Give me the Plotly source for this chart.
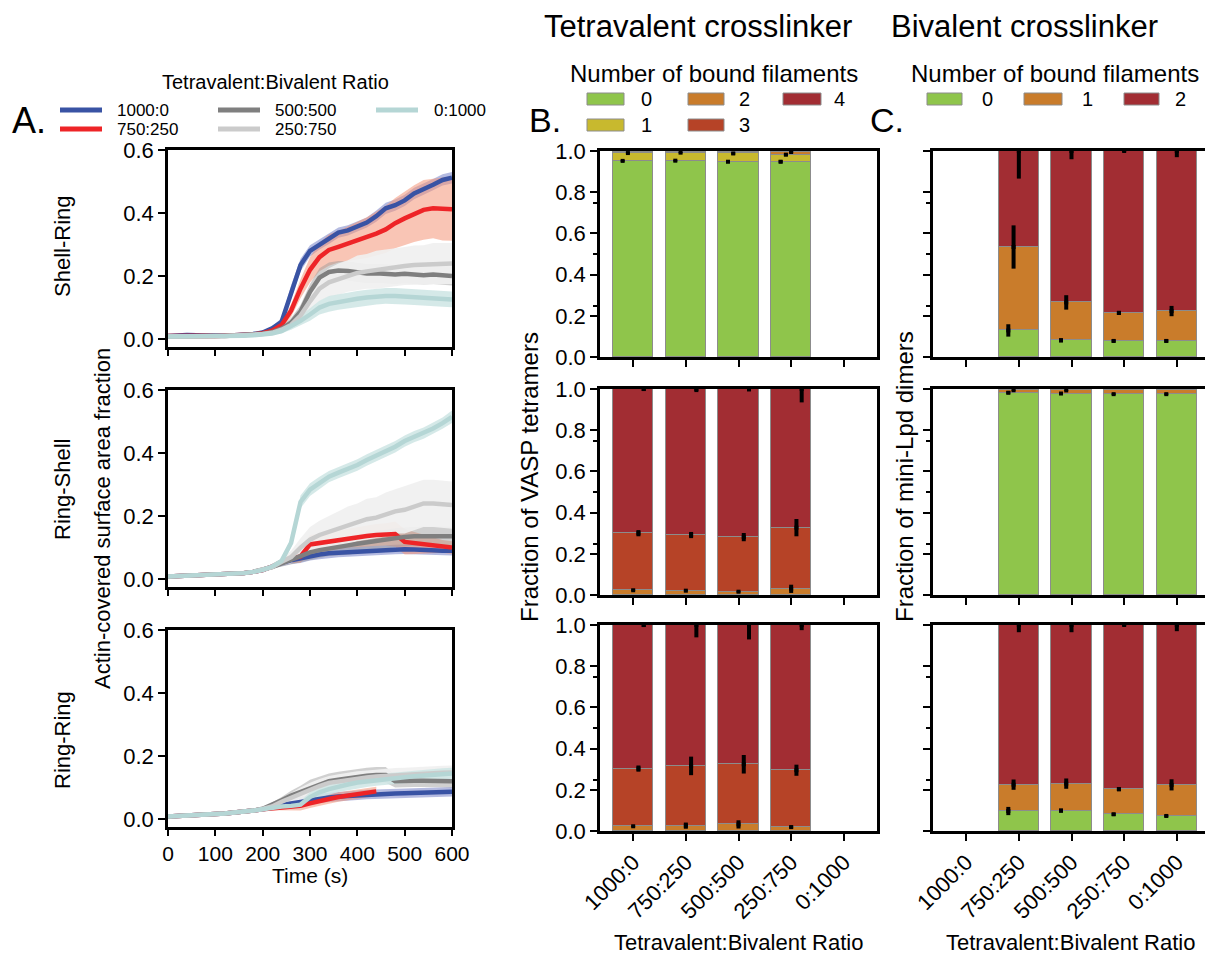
import numpy as np
import plotly.graph_objects as go

# page is rendered with an 8px body margin: figure origin sits at (8, 8) of the window
OFF = 8
W, H = 1213 - OFF, 957 - OFF

# ---------------- DATA ----------------
time_s = [0, 20, 40, 60, 80, 100, 120, 140, 160, 180, 200, 220, 240, 260, 280, 300,
          320, 340, 360, 380, 400, 420, 440, 460, 480, 500, 520, 540, 560, 580, 600]
ratios = ["1000:0", "750:250", "500:500", "250:750", "0:1000"]
row_names = ["Shell-Ring", "Ring-Shell", "Ring-Ring"]

# Shell-Ring mean curves
sr_1000_0 = [.010, .012, .013, .012, .011, .011, .012, .012, .013, .016, .021, .034, .055, .150, .235, .280,
             .300, .318, .338, .345, .358, .370, .390, .415, .425, .440, .462, .475, .490, .505, .512]
sr_750_250 = [.010, .011, .012, .012, .011, .010, .011, .012, .013, .015, .019, .027, .045, .090, .160, .220,
              .260, .283, .293, .303, .313, .322, .335, .348, .368, .383, .398, .410, .415, .413, .412]
sr_500_500 = [.008, .009, .010, .010, .010, .010, .010, .011, .012, .014, .017, .022, .033, .052, .088, .150,
              .195, .213, .218, .216, .211, .208, .209, .206, .205, .207, .205, .203, .205, .203, .200]
sr_250_750 = [.008, .009, .010, .010, .010, .010, .010, .011, .012, .013, .016, .020, .030, .045, .075, .120,
              .160, .180, .190, .200, .210, .215, .220, .225, .228, .232, .235, .236, .240, .240, .240]
sr_0_1000 = [.008, .008, .009, .009, .009, .009, .009, .010, .011, .012, .014, .018, .025, .040, .058, .078,
             .100, .112, .118, .122, .128, .132, .135, .137, .137, .135, .133, .132, .130, .128, .126]
# Shell-Ring band half-widths
sr_1000_0_sd = [.004, .004, .004, .004, .004, .004, .004, .004, .004, .004, .004, .006, .012, .020, .020, .018,
                .016, .016, .016, .016, .016, .016, .018, .018, .018, .018, .018, .018, .018, .018, .018]
sr_750_250_sd = [.004, .004, .004, .004, .004, .004, .004, .004, .004, .004, .004, .006, .010, .020, .030, .040,
                 .045, .050, .050, .055, .060, .065, .070, .075, .080, .085, .090, .095, .095, .100, .100]
sr_500_500_sd = [.003, .003, .003, .003, .003, .003, .003, .003, .003, .003, .003, .004, .008, .015, .020, .025,
                 .030, .030, .030, .030, .030, .030, .030, .030, .030, .030, .030, .030, .030, .030, .030]
sr_250_750_sd = [.003, .003, .003, .003, .003, .003, .003, .003, .003, .003, .003, .004, .008, .012, .020, .030,
                 .040, .045, .050, .050, .055, .055, .060, .060, .060, .060, .062, .062, .065, .065, .065]
sr_0_1000_sd = [.003, .003, .003, .003, .003, .003, .003, .003, .003, .003, .003, .004, .006, .010, .015, .020,
                .022, .025, .025, .025, .025, .025, .025, .025, .025, .025, .025, .025, .025, .025, .025]

# Ring-Shell mean curves
rs_1000_0 = [.008, .009, .010, .011, .012, .013, .014, .016, .019, .023, .029, .040, .052, .060, .066, .074,
             .078, .082, .084, .086, .088, .090, .092, .093, .094, .095, .094, .092, .091, .090, .090]
rs_750_250 = [.008, .009, .010, .011, .012, .013, .014, .016, .019, .023, .029, .040, .055, .065, .072, .110,
              .115, .120, .125, .130, .133, .137, .140, .142, .143, .118, .115, .112, .108, .104, .100]
rs_500_500 = [.008, .009, .010, .011, .012, .013, .014, .016, .019, .023, .029, .038, .050, .062, .075, .085,
              .092, .098, .103, .107, .112, .117, .122, .127, .131, .134, .136, .137, .137, .136, .136]
rs_250_750 = [.008, .009, .010, .011, .012, .013, .014, .016, .019, .023, .029, .038, .055, .070, .100, .125,
              .140, .150, .160, .170, .180, .190, .195, .205, .215, .220, .230, .240, .240, .238, .235]
rs_0_1000 = [.008, .009, .010, .011, .012, .013, .014, .016, .019, .023, .029, .040, .058, .115, .245, .284,
             .305, .325, .338, .350, .362, .378, .392, .405, .420, .438, .452, .463, .478, .495, .515]
rs_1000_0_sd = [.004, .004, .004, .004, .004, .004, .004, .004, .004, .004, .004, .006, .010, .012, .015, .015,
                .015, .015, .015, .015, .015, .015, .015, .015, .015, .015, .015, .015, .015, .015, .015]
rs_750_250_sd = [.004, .004, .004, .004, .004, .004, .004, .004, .004, .004, .004, .006, .010, .015, .020, .030,
                 .030, .030, .030, .030, .032, .035, .035, .035, .040, .040, .035, .030, .025, .020, .020]
rs_500_500_sd = [.004, .004, .004, .004, .004, .004, .004, .004, .004, .004, .004, .005, .010, .015, .020, .025,
                 .025, .025, .028, .030, .030, .030, .030, .030, .030, .030, .030, .030, .030, .030, .030]
rs_250_750_sd = [.004, .004, .004, .004, .004, .004, .004, .004, .004, .004, .004, .005, .010, .020, .030, .040,
                 .045, .050, .055, .060, .060, .065, .065, .070, .070, .075, .075, .075, .075, .075, .075]
rs_0_1000_sd = [.004, .004, .004, .004, .004, .004, .004, .004, .004, .004, .004, .005, .008, .015, .020, .020,
                .020, .018, .018, .018, .018, .018, .018, .018, .018, .018, .018, .018, .018, .018, .020]

# Ring-Ring mean curves
rr_1000_0 = [.008, .009, .011, .012, .014, .016, .018, .020, .023, .027, .031, .036, .045, .050, .055, .062,
             .066, .069, .072, .074, .076, .078, .079, .080, .081, .082, .083, .084, .085, .086, .087]
rr_750_250 = [.008, .009, .011, .012, .014, .016, .018, .020, .023, .027, .031, .034, .038, .040, .042, .050,
              .058, .064, .070, .075, .080, .085, .088, None, None, None, None, None, None, None, None]
rr_500_500 = [.008, .009, .011, .012, .014, .016, .018, .020, .023, .027, .033, .045, .060, .075, .086, .100,
              .110, .120, .125, .130, .135, .138, .140, .140, .120, .122, .122, .122, .121, .120, .120]
rr_250_750 = [.008, .009, .011, .012, .014, .016, .018, .020, .023, .027, .032, .040, .055, .068, .080, .095,
              .105, .115, .120, .125, .130, .132, .135, .137, .140, .141, .143, .144, .145, .147, .148]
rr_0_1000 = [.008, .009, .011, .012, .014, .016, .018, .020, .023, .027, .031, .036, .040, .042, .046, .070,
             .085, .095, .104, .110, .116, .120, .124, .127, .130, .133, .136, .139, .141, .143, .145]
rr_1000_0_sd = [.004, .004, .004, .004, .004, .004, .004, .004, .004, .004, .004, .006, .012, .015, .015, .015,
                .015, .015, .015, .015, .015, .015, .015, .015, .015, .015, .015, .015, .015, .015, .015]
rr_750_250_sd = [.004, .004, .004, .004, .004, .004, .004, .004, .004, .004, .004, .006, .010, .012, .015, .015,
                 .015, .015, .015, .015, .015, .015, .015, None, None, None, None, None, None, None, None]
rr_500_500_sd = [.004, .004, .004, .004, .004, .004, .004, .004, .004, .004, .004, .008, .010, .015, .020, .025,
                 .025, .025, .025, .025, .025, .025, .025, .025, .020, .020, .020, .020, .020, .020, .020]
rr_250_750_sd = [.004, .004, .004, .004, .004, .004, .004, .004, .004, .004, .004, .006, .010, .015, .020, .020,
                 .022, .022, .022, .022, .022, .022, .022, .022, .022, .022, .022, .022, .022, .022, .022]
rr_0_1000_sd = [.004, .004, .004, .004, .004, .004, .004, .004, .004, .004, .004, .006, .008, .010, .012, .015,
                .018, .018, .018, .018, .018, .018, .018, .018, .018, .018, .018, .018, .018, .018, .018]

# Tetravalent crosslinker: fraction by number of bound filaments (0..4), per ratio
tet_layers = ["0", "1", "2", "3", "4"]
tet_shell_ring = [[0.952, 0.953, 0.948, 0.948, None],
                  [0.038, 0.039, 0.040, 0.034, None],
                  [0.007, 0.005, 0.009, 0.013, None],
                  [0.002, 0.002, 0.002, 0.004, None],
                  [0.001, 0.001, 0.001, 0.001, None]]
tet_shell_ring_err = [[0.004, 0.004, 0.007, 0.008, None],
                      [0.004, 0.003, 0.006, 0.006, None],
                      [None, None, None, 0.004, None],
                      [None, None, None, None, None],
                      [None, None, None, None, None]]
tet_ring_shell = [[0.0, 0.0, 0.0, 0.0, None],
                  [0.002, 0.002, 0.002, 0.002, None],
                  [0.021, 0.019, 0.014, 0.028, None],
                  [0.277, 0.270, 0.265, 0.297, None],
                  [0.700, 0.709, 0.719, 0.673, None]]
tet_ring_shell_err = [[None, None, None, None, None],
                      [None, None, None, None, None],
                      [0.004, 0.003, 0.004, 0.020, None],
                      [0.015, 0.015, 0.020, 0.042, None],
                      [0.010, 0.015, 0.012, 0.065, None]]
tet_ring_ring = [[0.0, 0.0, 0.0, 0.0, None],
                 [0.002, 0.002, 0.002, 0.002, None],
                 [0.021, 0.024, 0.030, 0.017, None],
                 [0.280, 0.290, 0.292, 0.276, None],
                 [0.697, 0.684, 0.676, 0.705, None]]
tet_ring_ring_err = [[None, None, None, None, None],
                     [None, None, None, None, None],
                     [0.003, 0.015, 0.020, 0.007, None],
                     [0.015, 0.045, 0.045, 0.027, None],
                     [0.010, 0.060, 0.070, 0.025, None]]

# Bivalent crosslinker: fraction by number of bound filaments (0..2), per ratio
biv_layers = ["0", "1", "2"]
biv_shell_ring = [[None, 0.129, 0.081, 0.078, 0.078],
                  [None, 0.405, 0.184, 0.136, 0.145],
                  [None, 0.466, 0.735, 0.786, 0.777]]
biv_shell_ring_err = [[None, 0.030, 0.010, 0.008, 0.008],
                      [None, 0.105, 0.035, 0.010, 0.025],
                      [None, 0.134, 0.040, 0.005, 0.030]]
biv_ring_shell = [[None, 0.982, 0.978, 0.975, 0.975],
                  [None, 0.012, 0.015, 0.018, 0.018],
                  [None, 0.006, 0.007, 0.007, 0.007]]
biv_ring_shell_err = [[None, 0.008, 0.005, 0.004, 0.004],
                      [None, 0.003, 0.003, None, None],
                      [None, None, None, None, None]]
biv_ring_ring = [[None, 0.097, 0.099, 0.081, 0.073],
                 [None, 0.128, 0.131, 0.122, 0.151],
                 [None, 0.775, 0.770, 0.797, 0.776]]
biv_ring_ring_err = [[None, 0.020, 0.010, 0.008, 0.006],
                     [None, 0.025, 0.025, 0.010, 0.027],
                     [None, 0.035, 0.035, 0.005, 0.030]]

# ---------------- STYLE ----------------
line_colors = ["#3953a4", "#ee2427", "#7f7f7f", "#cbcbcb", "#b5d6d5"]
band_colors = ["rgba(120,132,200,0.55)", "rgba(244,150,120,0.55)", "rgba(150,150,150,0.45)",
               "rgba(240,240,240,0.92)", "rgba(206,229,228,0.85)"]
tet_colors = ["#8fc54b", "#c8b92e", "#c97c2b", "#b64327", "#a22d33"]
biv_colors = ["#8fc54b", "#c97c2b", "#a22d33"]

FONT = "Liberation Sans, Arial, sans-serif"


def fx(px):
    # window pixel -> paper fraction
    return (px - OFF) / W


def fy(py):
    return 1 - (py - OFF) / H


fig = go.Figure()

# domains in window pixels
A_x = (168, 452)
B_x = (600, 877)
C_x = (933, 1210)
A_y = [(150, 347), (390, 587), (630, 827)]
BC_y = [(151, 357), (389, 595), (625, 831)]

axis_common = dict(showline=True, mirror=True, linecolor="black", linewidth=2.5,
                   ticks="outside", ticklen=7, tickwidth=2, tickcolor="black",
                   showgrid=False, zeroline=False, automargin=False,
                   tickfont=dict(family=FONT, size=22, color="black"))

layout_axes = {}
for r in range(3):
    ia = r + 1
    layout_axes[f"xaxis{ia}"] = dict(axis_common, domain=[fx(A_x[0]), fx(A_x[1])], range=[0, 600],
                                     tickvals=[0, 100, 200, 300, 400, 500, 600], ticklen=6,
                                     tickfont=dict(family=FONT, size=21, color="black"),
                                     showticklabels=(r == 2), anchor=f"y{ia}")
    layout_axes[f"yaxis{ia}"] = dict(axis_common, domain=[fy(A_y[r][1]), fy(A_y[r][0])], range=[-0.025, 0.6],
                                     tickvals=[0, 0.2, 0.4, 0.6], tickformat=".1f", anchor=f"x{ia}")
    ib = r + 4
    layout_axes[f"xaxis{ib}"] = dict(axis_common, domain=[fx(B_x[0]), fx(B_x[1])], range=[-0.63, 4.63],
                                     tickvals=[0, 1, 2, 3, 4], ticktext=ratios, tickangle=-45,
                                     showticklabels=(r == 2), anchor=f"y{ib}")
    layout_axes[f"yaxis{ib}"] = dict(axis_common, domain=[fy(BC_y[r][1]), fy(BC_y[r][0])], range=[0, 1],
                                     tickvals=[0, 0.2, 0.4, 0.6, 0.8, 1.0], tickformat=".1f",
                                     minor=dict(tickvals=[0.25, 0.5, 0.75], ticks="outside", ticklen=4,
                                                tickwidth=2, tickcolor="black"),
                                     anchor=f"x{ib}")
    ic = r + 7
    layout_axes[f"xaxis{ic}"] = dict(axis_common, domain=[fx(C_x[0]), fx(C_x[1])], range=[-0.63, 4.63],
                                     tickvals=[0, 1, 2, 3, 4], ticktext=ratios, tickangle=-45,
                                     showticklabels=(r == 2), anchor=f"y{ic}")
    layout_axes[f"yaxis{ic}"] = dict(axis_common, domain=[fy(BC_y[r][1]), fy(BC_y[r][0])], range=[0, 1],
                                     tickvals=[0, 0.2, 0.4, 0.6, 0.8, 1.0], showticklabels=False,
                                     minor=dict(tickvals=[0.25, 0.5, 0.75], ticks="outside", ticklen=4,
                                                tickwidth=2, tickcolor="black"),
                                     anchor=f"x{ic}")

# ---------------- PANEL A traces ----------------
panel_a = [
    ([sr_1000_0, sr_750_250, sr_500_500, sr_250_750, sr_0_1000],
     [sr_1000_0_sd, sr_750_250_sd, sr_500_500_sd, sr_250_750_sd, sr_0_1000_sd]),
    ([rs_1000_0, rs_750_250, rs_500_500, rs_250_750, rs_0_1000],
     [rs_1000_0_sd, rs_750_250_sd, rs_500_500_sd, rs_250_750_sd, rs_0_1000_sd]),
    ([rr_1000_0, rr_750_250, rr_500_500, rr_250_750, rr_0_1000],
     [rr_1000_0_sd, rr_750_250_sd, rr_500_500_sd, rr_250_750_sd, rr_0_1000_sd]),
]


def clean(means_i, sds_i):
    keep = [k for k, v in enumerate(means_i) if v is not None]
    t = np.array([time_s[k] for k in keep], dtype=float)
    m = np.array([means_i[k] for k in keep], dtype=float)
    s = np.array([sds_i[k] for k in keep], dtype=float)
    return t, m, s


for r, (means, sds) in enumerate(panel_a):
    xa, ya = f"x{r + 1}", f"y{r + 1}"
    for i in range(5):
        t, m, s = clean(means[i], sds[i])
        fig.add_trace(go.Scatter(x=t, y=m + s, mode="lines", line=dict(width=0, color=band_colors[i]),
                                 xaxis=xa, yaxis=ya, showlegend=False, hoverinfo="skip"))
        fig.add_trace(go.Scatter(x=t, y=m - s, mode="lines", line=dict(width=0, color=band_colors[i]),
                                 fill="tonexty", fillcolor=band_colors[i],
                                 xaxis=xa, yaxis=ya, showlegend=False, hoverinfo="skip"))
    for i in range(5):
        t, m, s = clean(means[i], sds[i])
        fig.add_trace(go.Scatter(x=t, y=m, mode="lines", line=dict(width=4.5, color=line_colors[i]),
                                 name=ratios[i], xaxis=xa, yaxis=ya, showlegend=False))


# ---------------- PANEL B / C bars ----------------
def add_stack(vals, errs, colors, names, xa, ya):
    cum = np.zeros(5)
    xs = np.arange(5)
    for k in range(len(vals)):
        v = np.array([np.nan if a is None else a for a in vals[k]], dtype=float)
        fig.add_trace(go.Bar(x=xs, y=vals[k], width=0.76,
                             marker=dict(color=colors[k], line=dict(color="#8c8c8c", width=1)),
                             name=names[k], xaxis=xa, yaxis=ya, showlegend=False))
        cum = cum + np.nan_to_num(v)
        e = np.array([np.nan if a is None else a for a in errs[k]], dtype=float)
        ok = ~np.isnan(e) & ~np.isnan(v)
        if ok.any():
            top = cum[ok]
            em = e[ok]
            ep = np.minimum(em, np.maximum(1 - top, 0))
            offset = (k - 2) * 0.1
            fig.add_trace(go.Scatter(x=xs[ok] + offset, y=top, mode="markers",
                                     marker=dict(symbol="square", size=4, color="black"),
                                     error_y=dict(type="data", symmetric=False, array=ep, arrayminus=em,
                                                  thickness=4, width=0, color="black"),
                                     xaxis=xa, yaxis=ya, showlegend=False, hoverinfo="skip"))


tet_rows = [(tet_shell_ring, tet_shell_ring_err), (tet_ring_shell, tet_ring_shell_err),
            (tet_ring_ring, tet_ring_ring_err)]
biv_rows = [(biv_shell_ring, biv_shell_ring_err), (biv_ring_shell, biv_ring_shell_err),
            (biv_ring_ring, biv_ring_ring_err)]
for r in range(3):
    add_stack(tet_rows[r][0], tet_rows[r][1], tet_colors, tet_layers, f"x{r + 4}", f"y{r + 4}")
    add_stack(biv_rows[r][0], biv_rows[r][1], biv_colors, biv_layers, f"x{r + 7}", f"y{r + 7}")

# ---------------- texts & manual legends ----------------
ann = []
shapes = []


def text(x, y, s, size, xanchor="center", yanchor="middle", angle=0):
    ann.append(dict(x=fx(x), y=fy(y), xref="paper", yref="paper", text=s, showarrow=False,
                    xanchor=xanchor, yanchor=yanchor, textangle=angle,
                    font=dict(family=FONT, size=size, color="black")))


text(698, 27, "Tetravalent crosslinker", 31)
text(1024, 27, "Bivalent crosslinker", 31)
text(714, 73, "Number of bound filaments", 24)
text(1055, 73, "Number of bound filaments", 24)
text(10, 121, "A.", 36, xanchor="left")
text(527, 120, "B.", 34, xanchor="left")
text(868, 120, "C.", 34, xanchor="left")
text(275, 82, "Tetravalent:Bivalent Ratio", 20)
for r, nm in enumerate(row_names):
    text(62, [246, 489, 740][r], nm, 22, angle=-90)
text(102, 519, "Actin-covered surface area fraction", 22, angle=-90)
text(530, 477, "Fraction of VASP tetramers", 24, angle=-90)
text(905, 477, "Fraction of mini-Lpd dimers", 24, angle=-90)
text(310, 875, "Time (s)", 21)
text(738, 942, "Tetravalent:Bivalent Ratio", 22)
text(1070, 942, "Tetravalent:Bivalent Ratio", 22)

# legend A (line swatches)
legA = [(60, 102, 110, 115), (60, 102, 129, 115), (218, 260, 110, 273), (218, 260, 129, 273), (376, 418, 110, 432)]
for i, (x0, x1, y, tx) in enumerate(legA):
    shapes.append(dict(type="line", xref="paper", yref="paper", x0=fx(x0), x1=fx(x1), y0=fy(y), y1=fy(y),
                       line=dict(color=line_colors[i], width=5)))
    text(tx, y, ratios[i], 17, xanchor="left")

# legend B / C (rect swatches)
legB = [(587, 624, 99, 639), (587, 624, 125, 639), (688, 724, 99, 737), (688, 724, 125, 737), (783, 821, 99, 832)]
for k, (x0, x1, y, tx) in enumerate(legB):
    shapes.append(dict(type="rect", xref="paper", yref="paper", x0=fx(x0), x1=fx(x1), y0=fy(y + 6), y1=fy(y - 6),
                       fillcolor=tet_colors[k], line=dict(color="#8c8c8c", width=1)))
    text(tx, y, tet_layers[k], 20, xanchor="left")
legC = [(927, 962, 99, 980), (1024, 1062, 99, 1080), (1124, 1159, 99, 1173)]
for k, (x0, x1, y, tx) in enumerate(legC):
    shapes.append(dict(type="rect", xref="paper", yref="paper", x0=fx(x0), x1=fx(x1), y0=fy(y + 6), y1=fy(y - 6),
                       fillcolor=biv_colors[k], line=dict(color="#8c8c8c", width=1)))
    text(tx, y, biv_layers[k], 20, xanchor="left")

fig.update_layout(width=W, height=H, margin=dict(l=0, r=0, t=0, b=0, autoexpand=False), autosize=False,
                  plot_bgcolor="white", paper_bgcolor="white", barmode="stack", bargap=0,
                  showlegend=False, annotations=ann, shapes=shapes,
                  font=dict(family=FONT, color="black"), **layout_axes)

fig.write_html("out.html")
